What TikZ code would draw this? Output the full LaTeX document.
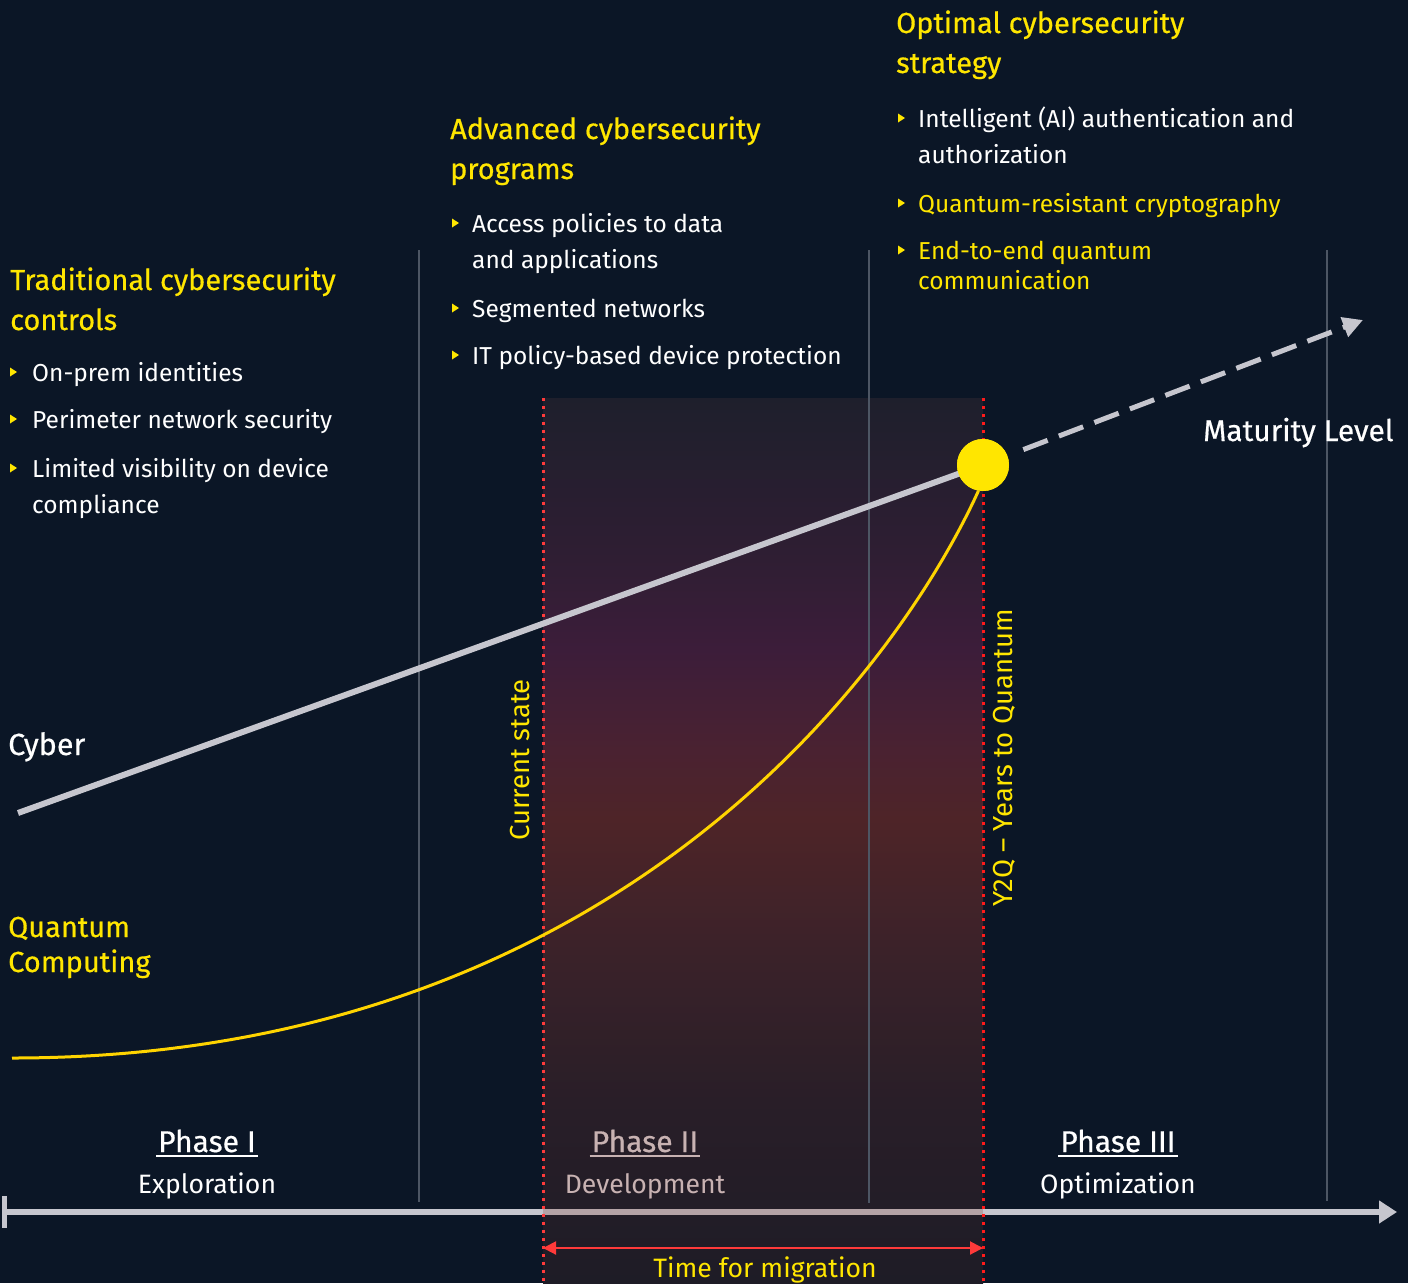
\documentclass[tikz,border=0pt]{standalone}
\usepackage{fontspec}
\setmainfont{Fira Sans}
\newfontfamily\medfont{Fira Sans}[FakeBold=0.5]
\usetikzlibrary{arrows.meta}
\definecolor{bgcol}{HTML}{0B1626}
\definecolor{ylw}{HTML}{FFE600}
\definecolor{cyl}{HTML}{FFD400}
\definecolor{lgray}{HTML}{C6C6CE}
\definecolor{grid}{HTML}{4D5664}
\definecolor{redl}{HTML}{FF3A3A}
\definecolor{redr}{HTML}{FF1A1A}
\definecolor{phtwo}{HTML}{C8B2B2}
\definecolor{axtwo}{HTML}{B4A3A6}
\definecolor{stop}{HTML}{1E1F2C}
\definecolor{sa}{HTML}{2F1E33}
\definecolor{sb}{HTML}{3C1D3A}
\definecolor{sc}{HTML}{4A2231}
\definecolor{sd}{HTML}{4E2428}
\definecolor{se}{HTML}{3B2229}
\definecolor{sf}{HTML}{291E28}
\definecolor{sbot}{HTML}{1E1C26}
\pgfdeclareverticalshading{migr}{100bp}{color(0bp)=(sbot); color(25bp)=(sbot); color(35.3bp)=(sf); color(43.8bp)=(se); color(51.2bp)=(sd); color(55.1bp)=(sc); color(60.8bp)=(sb); color(65.9bp)=(sa); color(75bp)=(stop); color(100bp)=(stop)}
\newcommand\fsT{\medfont\fontsize{29}{33}\selectfont}
\newcommand\fsB{\fontsize{24.5}{29}\selectfont}
\newcommand\fsS{\fontsize{26.6}{30}\selectfont}
\newcommand\fsR{\fontsize{27.5}{31}\selectfont}
\tikzset{
  title/.style={inner sep=0pt, anchor=base west, text=ylw, font=\fsT},
  body/.style={inner sep=0pt, anchor=base west, text=white, font=\fsB},
  ybody/.style={body, text=ylw},
  gridline/.style={grid, line width=2.5pt},
  reddot/.style={line width=3pt, dash pattern=on 3pt off 5pt},
  cyberline/.style={lgray, line width=6pt},
  qcurve/.style={cyl, line width=3pt},
  phase/.style={inner sep=0pt, anchor=base, text=white, font=\medfont\fontsize{30}{34}\selectfont},
  phasesub/.style={inner sep=0pt, anchor=base, text=white, font=\fsS},
  bul/.style={fill=ylw},
}
\newcommand\tri[2]{\fill[bul] (#1,#2) ++(0,-4.5) -- ++(7,4.5) -- ++(-7,4.5) -- cycle;}
\begin{document}
\begin{tikzpicture}[x=1pt,y=-1pt]
\useasboundingbox (0,0) rectangle (1408,1283);
\fill[bgcol] (0,0) rectangle (1408,1283);
% migration band
\shade[shading=migr] (543,398) rectangle (983,1283);
% grid lines
\coordinate (g1t) at (419,250); \coordinate (g1b) at (419,1202);
\coordinate (g2t) at (869,250); \coordinate (g2b) at (869,1203);
\coordinate (g3t) at (1327,250); \coordinate (g3b) at (1327,1201);
\draw[gridline] (g1t) -- (g1b);
\draw[gridline] (g2t) -- (g2b);
\draw[gridline] (g3t) -- (g3b);
% axis
\coordinate (ax0) at (4.5,1212);
\coordinate (ax1) at (1397,1212);
\coordinate (axa) at (543,1212);
\coordinate (axb) at (983,1212);
\draw[lgray, line width=6pt, -{Triangle[length=18pt,width=22pt]}] (ax0) -- (ax1);
\draw[axtwo, line width=6pt] (axa) -- (axb);
\draw[lgray, line width=5pt] (4.5,1196) -- (4.5,1228);
% red dotted lines
\coordinate (rlt) at (543,398); \coordinate (rlb) at (543,1283);
\coordinate (rrt) at (983,398); \coordinate (rrb) at (983,1283);
\draw[reddot, redl] (rlt) -- (rlb);
\draw[reddot, redr] (rrt) -- (rrb);
% time for migration
\coordinate (ma) at (543,1248);
\coordinate (mb) at (983,1248);
\draw[redl, line width=2pt, {Triangle[length=13pt,width=13pt]}-{Triangle[length=13pt,width=13pt]}] (ma) -- (mb);
\node[inner sep=0pt, anchor=base, text=ylw, font=\fsS] (tfm) at (765,1277) {Time for migration};
% phases
\node[phase] (p1) at (207,1152) {Phase I};
\draw[white, line width=1.2pt] ([shift={(-2,4)}]p1.base west) -- ([shift={(2,4)}]p1.base east);
\node[phasesub] (p1s) at (207,1193) {Exploration};
\node[phase, text=phtwo] (p2) at (645,1152) {Phase II};
\draw[phtwo, line width=1.2pt] ([shift={(-2,4)}]p2.base west) -- ([shift={(2,4)}]p2.base east);
\node[phasesub, text=phtwo] (p2s) at (645,1193) {Development};
\node[phase] (p3) at (1118,1152) {Phase III};
\draw[white, line width=1.2pt] ([shift={(-2,4)}]p3.base west) -- ([shift={(2,4)}]p3.base east);
\node[phasesub] (p3s) at (1118,1193) {Optimization};
% maturity
\node[circle, fill=ylw, minimum size=52pt, inner sep=0pt] (dot) at (983,465) {};
\coordinate (cs) at (18,813);
\coordinate (me) at (1363,320);
\coordinate (qs) at (12,1058);
\draw[cyberline] (cs) -- (dot.center);
\draw[lgray, line width=5pt, dash pattern=on 26pt off 12pt, shorten <=17pt, -{Triangle[length=20pt,width=20pt]}] (dot) -- (me);
\draw[qcurve] (qs) .. controls (612,1058) and (896,672) .. (dot.-100);
\node[circle, fill=ylw, minimum size=52pt, inner sep=0pt] at (dot) {};
\node[inner sep=0pt, anchor=base west, text=white, font=\medfont\fontsize{29.8}{34}\selectfont] (ml) at (1203,441) {Maturity Level};
\node[inner sep=0pt, anchor=base west, text=white, font=\medfont\fontsize{30.5}{34}\selectfont] (cy) at (8,755) {Cyber};
\node[title] (qc1) at (8,937) {Quantum};
\node[title] (qc2) at (8,972) {Computing};
% rotated labels
\node[inner sep=0pt, rotate=90, text=ylw, font=\fsR] (cur) at (520,760) {Current state};
\node[inner sep=0pt, rotate=90, text=ylw, font=\fsR] (y2q) at (1004,758) {Y2Q – Years to Quantum};
% left column
\node[title] (t1a) at (10,290) {Traditional cybersecurity};
\node[title] (t1b) at (10,330) {controls};
\tri{10}{372}
\node[body] (l1) at (32,381) {On-prem identities};
\tri{10}{419}
\node[body] (l2) at (32,428) {Perimeter network security};
\tri{10}{468}
\node[body] (l3a) at (32,477) {Limited visibility on device};
\node[body] (l3b) at (32,513) {compliance};
% middle column
\node[title] (t2a) at (450,139) {Advanced cybersecurity};
\node[title] (t2b) at (450,179) {programs};
\tri{452}{223}
\node[body] (m1a) at (472,232) {Access policies to data};
\node[body] (m1b) at (472,268) {and applications};
\tri{452}{308}
\node[body] (m2) at (472,317) {Segmented networks};
\tri{452}{355}
\node[body] (m3) at (472,364) {IT policy-based device protection};
% right column
\node[title] (t3a) at (896,33) {Optimal cybersecurity};
\node[title] (t3b) at (896,73) {strategy};
\tri{898}{118}
\node[body] (r1a) at (918,127) {Intelligent (AI) authentication and};
\node[body] (r1b) at (918,163) {authorization};
\tri{898}{203}
\node[ybody] (r2) at (918,212) {Quantum-resistant cryptography};
\tri{898}{250}
\node[ybody] (r3a) at (918,259) {End-to-end quantum};
\node[ybody] (r3b) at (918,289) {communication};
\end{tikzpicture}
\end{document}
